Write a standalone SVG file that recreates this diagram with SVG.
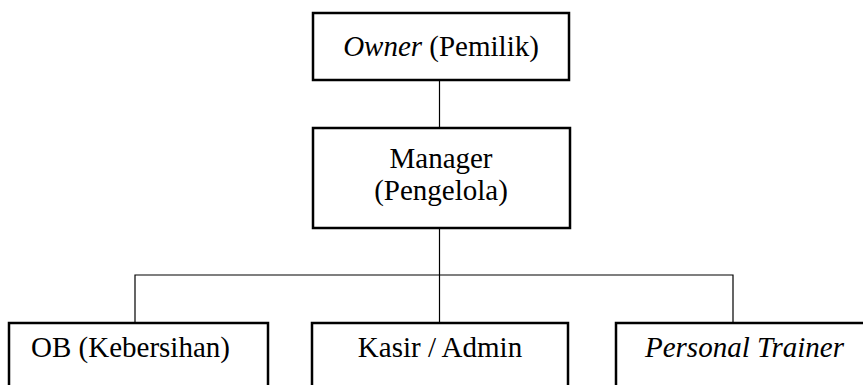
<svg xmlns="http://www.w3.org/2000/svg" width="863" height="385" viewBox="0 0 863 385">
  <style>
    .box { fill: #fff; stroke: #000; stroke-width: 2.5; }
    .link { fill: none; stroke: #000; stroke-width: 1.2; }
    .lbl { font-family: 'Liberation Serif', serif; font-size: 29px; fill: #000; }
    .it { font-style: italic; }
  </style>
  <rect width="863" height="385" fill="#fff"/>
  <g id="connectors">
    <line class="link" x1="439.5" y1="80" x2="439.5" y2="128"/>
    <line class="link" x1="439.5" y1="228" x2="439.5" y2="323"/>
    <polyline class="link" points="135,323 135,275 733,275 733,323"/>
  </g>
  <g id="owner">
    <rect class="box" x="313" y="13" width="256" height="67"/>
    <text class="lbl" x="441" y="56" text-anchor="middle"><tspan class="it">Owner</tspan> (Pemilik)</text>
  </g>
  <g id="manager">
    <rect class="box" x="313" y="128" width="257" height="100"/>
    <text class="lbl" x="441" y="168" text-anchor="middle">Manager</text>
    <text class="lbl" x="441" y="200" text-anchor="middle">(Pengelola)</text>
  </g>
  <g id="ob">
    <rect class="box" x="9" y="323" width="259" height="80"/>
    <text class="lbl" x="31" y="357">OB (Kebersihan)</text>
  </g>
  <g id="kasir">
    <rect class="box" x="312" y="323" width="256" height="80"/>
    <text class="lbl" x="440" y="357" text-anchor="middle">Kasir / Admin</text>
  </g>
  <g id="trainer">
    <rect class="box" x="616" y="323" width="260" height="80"/>
    <text class="lbl it" x="645" y="357">Personal Trainer</text>
  </g>
</svg>
